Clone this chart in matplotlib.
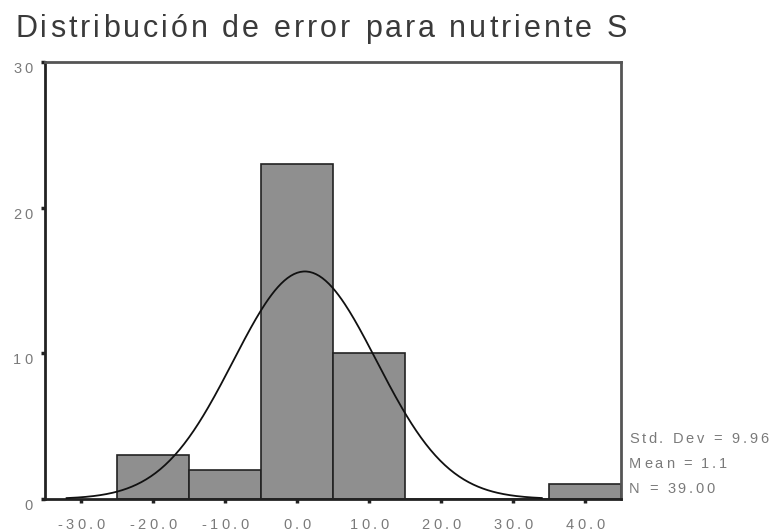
import numpy as np
import matplotlib.pyplot as plt
from matplotlib.font_manager import FontProperties, findfont
from matplotlib.ft2font import FT2Font

# histogram data (bin centers and counts)
bin_centers = [-20, -10, 0, 10, 20, 30, 40]
counts = [3, 2, 23, 10, 0, 0, 1]
bin_width = 10
std_dev = 9.96
mean = 1.1
n = 39
xticks = [-30, -20, -10, 0, 10, 20, 30, 40]
yticks = [0, 10, 20, 30]
title = 'Distribución de error para nutriente S'

W, H, DPI = 775, 531, 100
FAMILY = 'Liberation Sans'


def advances(s, size):
    font = FT2Font(findfont(FontProperties(family=FAMILY)))
    font.set_size(size, DPI)
    return [font.load_char(ord(c)).linearHoriAdvance / 65536.0 for c in s]


def spaced_text(fig, x, y, s, size, gap, ha='left', color='#7a7a7a', width=None):
    # x, y in pixels from the top-left corner, y is the baseline
    adv = advances(s, size)
    if width is not None:
        gap = (width - sum(adv)) / (len(s) - 1)
    total = sum(adv) + gap * (len(s) - 1)
    if ha == 'center':
        x -= total / 2
    elif ha == 'right':
        x -= total
    for c, a in zip(s, adv):
        fig.text(x / W, 1 - y / H, c, fontsize=size, family=FAMILY, color=color,
                 ha='left', va='baseline')
        x += a + gap


fig = plt.figure(figsize=(W / DPI, H / DPI), dpi=DPI)
ax = fig.add_axes([45 / W, 1 - 499 / H, 576 / W, 437 / H])

ax.bar(bin_centers, counts, width=bin_width, color='#8f8f8f',
       edgecolor='#222222', linewidth=1.2, zorder=2)

xs = np.linspace(-32, 34, 300)
ys = n * bin_width * np.exp(-0.5 * ((xs - mean) / std_dev) ** 2) / (std_dev * np.sqrt(2 * np.pi))
ax.plot(xs, ys, color='#111111', linewidth=1.3, zorder=3)

ax.set_xlim(-35, 45)
ax.set_ylim(0, 30)
ax.set_xticks(xticks)
ax.set_yticks(yticks)
ax.set_xticklabels([])
ax.set_yticklabels([])
ax.tick_params(axis='both', colors='#222222', length=3, width=2.5, direction='out')

ax.spines['left'].set_color('#222222')
ax.spines['bottom'].set_color('#222222')
ax.spines['top'].set_color('#555555')
ax.spines['right'].set_color('#555555')
for s in ax.spines.values():
    s.set_linewidth(2)

# tick labels, letter-spaced like the original
for t in xticks:
    px = ax.transData.transform((t, 0))[0]
    spaced_text(fig, px, 529, '%.1f' % t, 10.5, 3.5, ha='center')
for t in yticks:
    py = H - ax.transData.transform((0, t))[1]
    spaced_text(fig, 33, py + 11, '%d' % t, 10.5, 3.5, ha='right')

spaced_text(fig, 15, 37, title, 22, 0, color='#3a3a3a', width=612)

stats = ['Std. Dev = %.2f' % std_dev, 'Mean = %.1f' % mean, 'N = %.2f' % n]
for i, s in enumerate(stats):
    spaced_text(fig, 629, 443 + 25 * i, s, 10.5, 2.7)

fig.savefig('out.png', dpi=DPI)
